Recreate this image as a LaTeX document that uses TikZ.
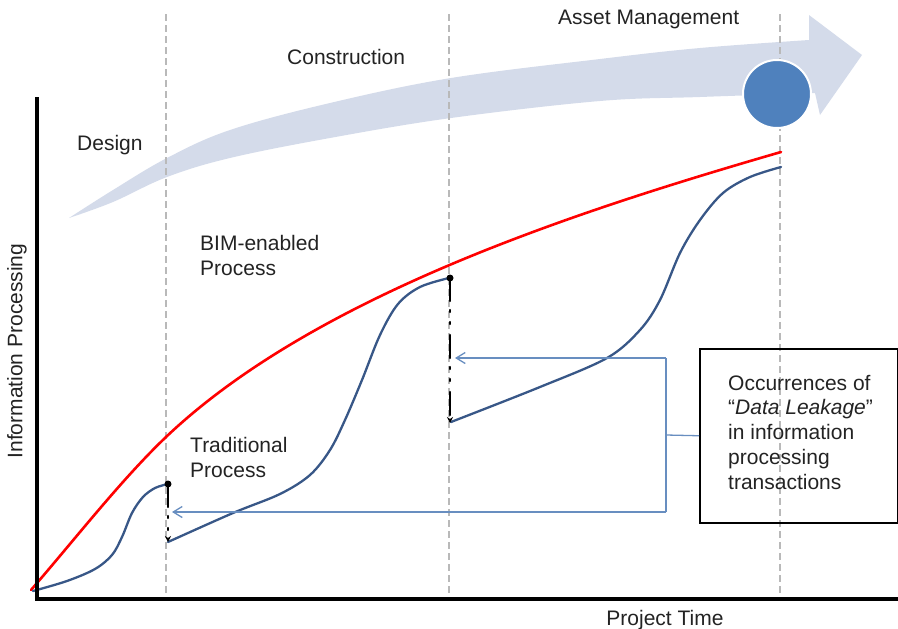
\documentclass[tikz,border=0pt]{standalone}
\usepackage{fontspec}
\setmainfont{Liberation Sans}
\usetikzlibrary{arrows.meta}
\definecolor{arrowfill}{RGB}{212,219,234}
\definecolor{dotblue}{RGB}{79,129,189}
\definecolor{tradblue}{RGB}{56,87,135}
\definecolor{leakblue}{RGB}{104,142,192}
\definecolor{gridgray}{RGB}{185,185,185}
\definecolor{txt}{RGB}{35,35,35}
\begin{document}
\begin{tikzpicture}[x=1pt,y=-1pt,
  lbl/.style={font=\fontsize{21}{24.7}\selectfont, text=txt, inner sep=0pt, anchor=base west, align=left},
  gridline/.style={draw=gridgray, line width=1.6pt, dash pattern=on 7pt off 4pt},
  bimline/.style={draw=red, line width=2.6pt, line cap=round},
  tradline/.style={draw=tradblue, line width=2.3pt, line cap=round},
  leakdash/.style={draw=black, line width=2.4pt, line cap=round, dash pattern=on 23pt off 9pt on 2pt off 10pt on 2pt off 11pt},
  leakline/.style={draw=leakblue, line width=1.3pt},
  leaktip/.style={-{Straight Barb[length=9pt,width=11pt,line width=1.3pt]}},
  axisline/.style={draw=black, line width=4.5pt}]
\useasboundingbox (0,0) rectangle (898,629);
% big phase arrow
\fill[arrowfill] (69,218)
  -- plot[smooth, tension=0.6] coordinates {(69,218) (113,190) (167,158) (230,130) (330,103) (451,78) (600,59) (700,48) (809,40)}
  -- (809,15) -- (862,55) -- (820,115) -- (815,93)
  -- plot[smooth, tension=0.6] coordinates {(815,93) (700,97) (600,101) (451,118) (330,138) (230,158) (167,177) (113,202) (69,218)}
  -- cycle;
% dashed phase separators
\coordinate (g1t) at (166,14); \coordinate (g1b) at (166,598);
\coordinate (g2t) at (449,14); \coordinate (g2b) at (449,598);
\coordinate (g3t) at (780,14); \coordinate (g3b) at (780,598);
\draw[gridline] (g1t) -- (g1b);
\draw[gridline] (g2t) -- (g2b);
\draw[gridline] (g3t) -- (g3b);
% milestone dot
\node[circle, fill=dotblue, draw=white, line width=2pt, minimum size=68pt, inner sep=0pt] (milestone) at (777,94) {};
% BIM-enabled curve
\draw[bimline] (31,590) .. controls (76,538) and (121,480) .. (166,437) .. controls (316,294.5) and (581,210) .. (781,152);
% traditional curve
\draw[tradline] plot[smooth, tension=0.55] coordinates {(33,591) (67,581) (95,569) (112,555) (122,537) (132,513) (143,497) (155,488) (168,484)};
\draw[tradline] plot[smooth, tension=0.55] coordinates {(168,542) (233,513) (280,494) (310,475) (330,450) (345,420) (362,380) (380,335) (398,304) (420,287) (449,278)};
\draw[tradline] plot[smooth, tension=0.55] coordinates {(451,422) (540,387) (607,358) (640,330) (660,300) (680,253) (700,220) (723,193) (750,177) (781,167)};
% data leakage drops
\coordinate (l1t) at (168,484); \coordinate (l1b) at (168,542);
\coordinate (l2t) at (450,278); \coordinate (l2b) at (450,423);
\draw[leakdash, -{Stealth[length=6pt,width=6pt]}] (l1t) -- (l1b);
\draw[leakdash, -{Stealth[length=6pt,width=6pt]}] (l2t) -- (l2b);
\fill (l1t) circle (3.5pt);
\fill (l2t) circle (3.5pt);
% axes
\coordinate (ytop) at (37,97); \coordinate (origin) at (37,599); \coordinate (xend) at (898,599);
\draw[axisline] (ytop) -- (origin) -- (xend);
% callout box
\node[draw=black, line width=1.5pt, minimum width=198pt, minimum height=174pt, anchor=north west, inner sep=0pt] (box) at (699,348) {};
\node[lbl] (boxtxt) at (728,489) {Occurrences of\\“\textit{Data Leakage}”\\in information\\processing\\transactions};
\coordinate (j2) at (666,358); \coordinate (j1) at (666,512); \coordinate (jm) at (666,435);
\coordinate (a2) at (455,358); \coordinate (a1) at (172,512);
\draw[leakline] (box.west) -- (jm);
\draw[leakline] (j2) -- (j1);
\draw[leakline, leaktip] (j2) -- (a2);
\draw[leakline, leaktip] (j1) -- (a1);
% labels
\node[lbl] (design) at (77,150) {Design};
\node[lbl] (constr) at (287,64) {Construction};
\node[lbl] (asset) at (558,24) {Asset Management};
\node[lbl] (bim) at (200,275) {BIM-enabled\\Process};
\node[lbl] (trad) at (190,477) {Traditional\\Process};
\node[lbl, anchor=base] (xlab) at (665,625) {Project Time};
\node[lbl, rotate=90, anchor=center] (ylab) at (17,351) {Information Processing};
\end{tikzpicture}
\end{document}
